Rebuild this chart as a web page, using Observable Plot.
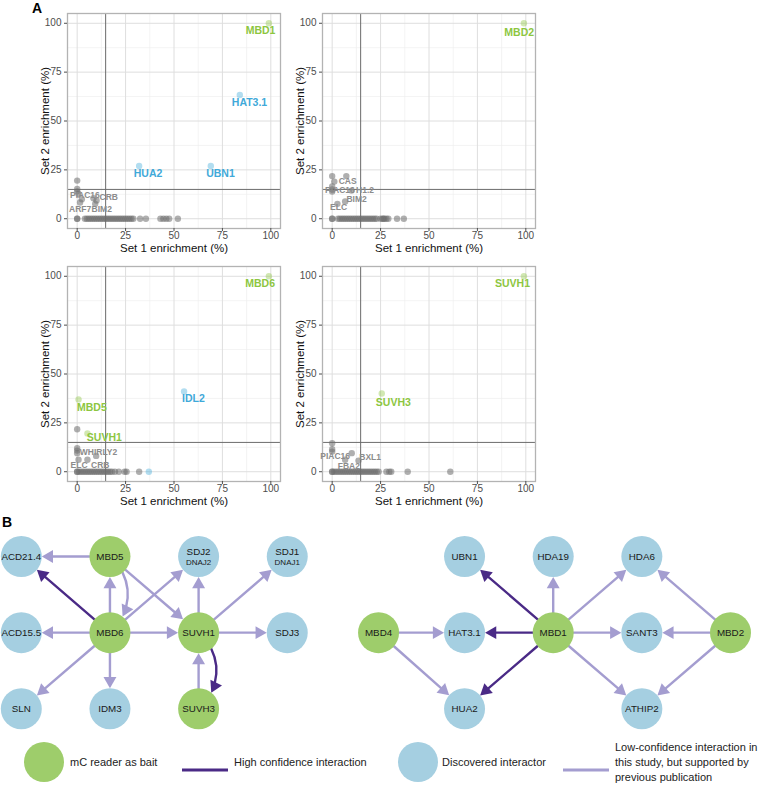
<!DOCTYPE html>
<html><head><meta charset="utf-8">
<script src="https://cdn.jsdelivr.net/npm/d3@7"></script>
<script src="https://cdn.jsdelivr.net/npm/@observablehq/plot@0.6"></script>
<style>
body{margin:0;background:#fff;font-family:"Liberation Sans",Arial,Helvetica,sans-serif;}
#root{position:relative;width:760px;height:790px;overflow:hidden;background:#fff;}
.abs{position:absolute;}
.plabel{position:absolute;font-weight:bold;font-size:14px;color:#000;}
.leg{position:absolute;font-size:11px;color:#222;line-height:15px;white-space:nowrap;}
</style></head><body><div id="root"></div>
<script>
// ---------- data: panel A ----------
const majorBreaks = [0, 25, 50, 75, 100];
const minorBreaks = [12.5, 37.5, 62.5, 87.5];
const cutX = 14.7, cutY = 15;
const xTitle = "Set 1 enrichment (%)";
const yTitle = "Set 2 enrichment (%)";

// MBD1 bait
const mbd1Hits = [
  {name: "MBD1", kind: "bait", x: 99, y: 100, lx: 94.7, ly: 96.3},
  {name: "HAT3.1", kind: "hit", x: 84, y: 63.3, lx: 89, ly: 59.4},
  {name: "HUA2", kind: "hit", x: 32, y: 27, lx: 36.6, ly: 23.2},
  {name: "UBN1", kind: "hit", x: 69, y: 27, lx: 74, ly: 23}
];
const mbd1Others = [[0,19.5],[0,15.2],[0,14],[0.7,12.7],[2.4,10],[1.5,8.3],[8.4,10.5],[10,9.3],[9.3,7.6]];
const mbd1Tags = [{name:"PIAC16",x:4,y:12.2},{name:"CRB",x:16.3,y:11.2},{name:"ARF7",x:1.5,y:4.9},{name:"BIM2",x:12.7,y:4.9}];
const mbd1Zero = [0,0,4,5,6,7,8,9,10,11,12,13,14,15,16,17,18,19,20,21,22,23,24,25,26,27,28,29,32.5,35.5,43,44.5,46,47.5,52];

// MBD2 bait
const mbd2Hits = [{name: "MBD2", kind: "bait", x: 99, y: 100, lx: 96.6, ly: 95}];
const mbd2Others = [[0,21.8],[7.3,21.8],[1.1,19],[0,16.5],[0,15],[0,13.9],[10,14.4],[2.7,7.6],[6.7,8.8]];
const mbd2Tags = [{name:"CAS",x:8,y:19.1},{name:"PIAC16",x:4,y:14.6},{name:"H1.2",x:17,y:14.6},{name:"BIM2",x:12.6,y:10},{name:"ELC",x:3.3,y:5.7}];
const mbd2Zero = [0,0,3,4,5,6,7,8,9,10,11,12,13,14,15,16,17,18,19,20,21,22,23,25,26,26.5,27,28,29,33.5,37];

// MBD6 bait
const mbd6Hits = [
  {name: "MBD6", kind: "bait", x: 99, y: 100, lx: 94.5, ly: 96},
  {name: "IDL2", kind: "hit", x: 55.2, y: 41.1, lx: 60, ly: 37.4},
  {name: "MBD5", kind: "bait", x: 0.7, y: 37, lx: 7.6, ly: 32.6},
  {name: "SUVH1", kind: "bait", x: 5.3, y: 19.6, lx: 14, ly: 17.4},
  {name: "", kind: "hit", x: 37, y: 0, lx: 37, ly: 0}
];
const mbd6Others = [[0,21.7],[0,12],[0,10.8],[0,9.5],[9.8,8.1],[0.7,6.1],[5.3,6.1]];
const mbd6Tags = [{name:"WHIRLY2",x:11,y:10.2},{name:"ELC",x:1,y:3.4},{name:"CRB",x:11.9,y:3.4}];
const mbd6Zero = [0,0,1,2,3,4,5,6,7,8,9,10,11,12,13,14,15,16,17,18,19.5,21.5,24.5,25.5,32];

// SUVH1 bait
const suvh1Hits = [
  {name: "SUVH1", kind: "bait", x: 99, y: 100, lx: 93.1, ly: 96},
  {name: "SUVH3", kind: "bait", x: 25.6, y: 40, lx: 31.6, ly: 35.4}
];
const suvh1Others = [[0,14.6],[0,11.5],[0,10.3],[10.1,9.5],[6.7,6.1],[13.6,5.7]];
const suvh1Tags = [{name:"PIAC16",x:1.5,y:7.9},{name:"BXL1",x:19.6,y:7.6},{name:"FBA2",x:8.6,y:2.6}];
const suvh1Zero = [0,0,1,2,3,4,5,6,7,8,9,10,11,12,13,14,15,16,17,18,19,20,21,22,23,24,28,29.5,30.5,39,61];

// ---------- data: panel B ----------
const netNodes = [
  {id:"ACD21.4", kind:"hit", col:0, row:0},
  {id:"MBD5", kind:"bait", col:1, row:0},
  {id:"SDJ2", sub:"DNAJ2", kind:"hit", col:2, row:0},
  {id:"SDJ1", sub:"DNAJ1", kind:"hit", col:3, row:0},
  {id:"ACD15.5", kind:"hit", col:0, row:1},
  {id:"MBD6", kind:"bait", col:1, row:1},
  {id:"SUVH1", kind:"bait", col:2, row:1},
  {id:"SDJ3", kind:"hit", col:3, row:1},
  {id:"SLN", kind:"hit", col:0, row:2},
  {id:"IDM3", kind:"hit", col:1, row:2},
  {id:"SUVH3", kind:"bait", col:2, row:2},
  {id:"UBN1", kind:"hit", col:5, row:0},
  {id:"HDA19", kind:"hit", col:6, row:0},
  {id:"HDA6", kind:"hit", col:7, row:0},
  {id:"MBD4", kind:"bait", col:4.03, row:1},
  {id:"HAT3.1", kind:"hit", col:5, row:1},
  {id:"MBD1", kind:"bait", col:6, row:1},
  {id:"SANT3", kind:"hit", col:7, row:1},
  {id:"MBD2", kind:"bait", col:8, row:1},
  {id:"HUA2", kind:"hit", col:5, row:2},
  {id:"ATHIP2", kind:"hit", col:7, row:2}
];
const netEdges = [
  {from:"MBD5", to:"ACD21.4", conf:"low"},
  {from:"MBD6", to:"ACD21.4", conf:"high"},
  {from:"MBD6", to:"MBD5", conf:"low"},
  {from:"MBD5", to:"MBD6", conf:"low", bend:50},
  {from:"MBD5", to:"SUVH1", conf:"low"},
  {from:"MBD6", to:"SDJ2", conf:"low"},
  {from:"SUVH1", to:"SDJ2", conf:"low"},
  {from:"SUVH1", to:"SDJ1", conf:"low"},
  {from:"MBD6", to:"ACD15.5", conf:"low"},
  {from:"MBD6", to:"SUVH1", conf:"low"},
  {from:"SUVH1", to:"SDJ3", conf:"low"},
  {from:"MBD6", to:"SLN", conf:"low"},
  {from:"MBD6", to:"IDM3", conf:"low"},
  {from:"SUVH3", to:"SUVH1", conf:"low"},
  {from:"SUVH1", to:"SUVH3", conf:"high", bend:50},
  {from:"MBD1", to:"UBN1", conf:"high"},
  {from:"MBD1", to:"HDA19", conf:"low"},
  {from:"MBD1", to:"HDA6", conf:"low"},
  {from:"MBD2", to:"HDA6", conf:"low"},
  {from:"MBD4", to:"HAT3.1", conf:"low"},
  {from:"MBD1", to:"HAT3.1", conf:"high"},
  {from:"MBD1", to:"SANT3", conf:"low"},
  {from:"MBD2", to:"SANT3", conf:"low"},
  {from:"MBD4", to:"HUA2", conf:"low"},
  {from:"MBD1", to:"HUA2", conf:"high"},
  {from:"MBD1", to:"ATHIP2", conf:"low"},
  {from:"MBD2", to:"ATHIP2", conf:"low"}
];
const legendLabels = ["mC reader as bait", "High confidence interaction", "Discovered interactor",
  "Low-confidence interaction in\nthis study, but supported by\nprevious publication"];

// ---------- styles ----------
const FONT = "'Liberation Sans', Arial, Helvetica, sans-serif";
const GREEN = "#8dc63f", BLUE = "#3fa9d9";
const NODE_GREEN = "#9ecd6b", NODE_BLUE = "#a5cfe1";
const DARK = "#4a2a86", LIGHT = "#a49dd0";

const root = document.getElementById("root");
function place(el, left, top) {
  const d = document.createElement("div");
  d.className = "abs"; d.style.left = left + "px"; d.style.top = top + "px";
  d.appendChild(el); root.appendChild(d);
}

function scatter(hits, others, tags, zero) {
  const pts = [...zero.map(x => ({x, y: 0})), ...others.map(([x, y]) => ({x, y}))];
  return Plot.plot({
    width: 290, height: 255, marginLeft: 67, marginRight: 10, marginTop: 13, marginBottom: 27,
    x: {domain: [-5, 105]}, y: {domain: [-5, 105]},
    color: {domain: ["bait", "hit"], range: [GREEN, BLUE]},
    style: {fontFamily: FONT, fontSize: "10px", color: "#4d4d4d", background: "transparent", overflow: "visible"},
    marks: [
      Plot.ruleX(minorBreaks, {stroke: "#eeeeee", strokeWidth: 0.7}),
      Plot.ruleY(minorBreaks, {stroke: "#eeeeee", strokeWidth: 0.7}),
      Plot.ruleX(majorBreaks, {stroke: "#dedede", strokeWidth: 1}),
      Plot.ruleY(majorBreaks, {stroke: "#dedede", strokeWidth: 1}),
      Plot.ruleX([cutX], {stroke: "#6b6b6b", strokeWidth: 1}),
      Plot.ruleY([cutY], {stroke: "#6b6b6b", strokeWidth: 1}),
      Plot.frame({stroke: "#b3b3b3", strokeWidth: 1.3}),
      Plot.axisX({ticks: majorBreaks, tickSize: 3, tickPadding: 0.5, label: null}),
      Plot.axisY({ticks: majorBreaks, tickSize: 3, tickPadding: 3, label: null}),
      Plot.text([xTitle], {text: d => d, frameAnchor: "bottom", lineAnchor: "middle", textAnchor: "middle", dy: 19.5, fontSize: 11.5, fill: "#111"}),
      Plot.text([yTitle], {text: d => d, frameAnchor: "left", lineAnchor: "middle", textAnchor: "middle", rotate: -90, dx: -22, fontSize: 11.5, fill: "#111"}),
      Plot.dot(pts, {x: "x", y: "y", r: 3.2, fill: "#6e6e6e", fillOpacity: 0.55}),
      Plot.dot(hits, {x: "x", y: "y", r: 3.2, fill: "kind", fillOpacity: 0.4}),
      Plot.text(tags, {x: "x", y: "y", text: "name", fontSize: 8.5, fontWeight: "bold", fill: "#8c8c8c"}),
      Plot.text(hits.filter(d => d.name), {x: "lx", y: "ly", text: "name", fontSize: 10.5, fontWeight: "bold", fill: "kind"})
    ]
  });
}

place(scatter(mbd1Hits, mbd1Others, mbd1Tags, mbd1Zero), 0, 0);
place(scatter(mbd2Hits, mbd2Others, mbd2Tags, mbd2Zero), 255, 0);
place(scatter(mbd6Hits, mbd6Others, mbd6Tags, mbd6Zero), 0, 253);
place(scatter(suvh1Hits, suvh1Others, suvh1Tags, suvh1Zero), 255, 253);

// ---------- network ----------
const XD = [0, 8], XR = [20.8, 730], YD = [0, 2], YR = [36, 188.3];
const xs = d3.scaleLinear(XD, XR), ys = d3.scaleLinear(YD, YR);
const byId = Object.fromEntries(netNodes.map(d => [d.id, d]));
const R = 20.5, TR = 4.8;
const TIP = 1.5551 * TR, TLEN = 2.3327 * TR;

function pointPointCenter([ax, ay], [bx, by], r, sign) {
  const dx = bx - ax, dy = by - ay, d = Math.hypot(dx, dy);
  const k = (sign * Math.sqrt(r * r - (d * d) / 4)) / d;
  return [(ax + bx) / 2 - dy * k, (ay + by) / 2 + dx * k];
}
function circleCircleIntersect([ax, ay, ar], [bx, by, br], sign) {
  const dx = bx - ax, dy = by - ay, d = Math.hypot(dx, dy);
  const x = (dx * dx + dy * dy - br * br + ar * ar) / (2 * d);
  const y = sign * Math.sqrt(ar * ar - x * x);
  return [ax + (dx * x + dy * y) / d, ay + (dy * x - dx * y) / d];
}
const heads = netEdges.map(e => {
  const s = byId[e.from], t = byId[e.to];
  const p1 = [xs(s.col), ys(s.row)], p2 = [xs(t.col), ys(t.row)];
  let tip, dir;
  if (!e.bend) {
    const dx = p2[0] - p1[0], dy = p2[1] - p1[1], L = Math.hypot(dx, dy);
    dir = [dx / L, dy / L];
    tip = [p2[0] - dir[0] * R, p2[1] - dir[1] * R];
  } else {
    const b = e.bend * Math.PI / 180;
    const L = Math.hypot(p2[0] - p1[0], p2[1] - p1[1]);
    const r = Math.hypot(L / Math.tan(b), L) / 2;
    const sign = Math.sign(b);
    const c = pointPointCenter(p1, p2, r, sign);
    tip = circleCircleIntersect([c[0], c[1], r], [p2[0], p2[1], R], sign);
    dir = [-(tip[1] - c[1]) / r * sign, (tip[0] - c[0]) / r * sign];
  }
  const cx = tip[0] - dir[0] * TIP, cy = tip[1] - dir[1] * TIP;
  return {x: xs.invert(cx), y: ys.invert(cy), rotate: Math.atan2(dir[1], dir[0]) * 180 / Math.PI + 90, conf: e.conf};
});
const edgeXY = {
  x1: d => byId[d.from].col, y1: d => byId[d.from].row,
  x2: d => byId[d.to].col, y2: d => byId[d.to].row
};
const straight = netEdges.filter(e => !e.bend), bent = netEdges.filter(e => e.bend);

const net = Plot.plot({
  width: 760, height: 215, margin: 0,
  x: {domain: XD, range: XR, axis: null},
  y: {domain: YD, range: YR, axis: null},
  color: {domain: ["bait", "hit", "high", "low"], range: [NODE_GREEN, NODE_BLUE, DARK, LIGHT]},
  style: {fontFamily: FONT, fontSize: "9.8px", background: "transparent", overflow: "visible"},
  marks: [
    Plot.arrow(straight, {...edgeXY, stroke: "conf", strokeWidth: 2.4, headLength: 0, insetStart: R, insetEnd: R + TLEN - 1.5}),
    Plot.arrow(bent, {...edgeXY, stroke: "conf", strokeWidth: 2.4, headLength: 0, bend: bent[0].bend, insetStart: R, insetEnd: R + TLEN - 1.5}),
    Plot.dot(heads, {x: "x", y: "y", r: TR, symbol: "triangle", rotate: "rotate", fill: "conf", stroke: "none"}),
    Plot.dot(netNodes, {x: "col", y: "row", r: R, fill: "kind", stroke: "none"}),
    Plot.text(netNodes.filter(d => !d.sub), {x: "col", y: "row", text: "id", fill: "#1a1a1a"}),
    Plot.text(netNodes.filter(d => d.sub), {x: "col", y: "row", text: "id", dy: -5, fill: "#1a1a1a"}),
    Plot.text(netNodes.filter(d => d.sub), {x: "col", y: "row", text: "sub", dy: 6, fontSize: 8, fill: "#1a1a1a"})
  ]
});
place(net, 0, 520);

// ---------- panel letters ----------
function label(txt, left, top) {
  const d = document.createElement("div");
  d.className = "plabel"; d.textContent = txt;
  d.style.left = left + "px"; d.style.top = top + "px";
  root.appendChild(d);
}
label("A", 32, 0);
label("B", 2, 514);

// ---------- legend ----------
function svgEl(w, h, inner) {
  const s = document.createElementNS("http://www.w3.org/2000/svg", "svg");
  s.setAttribute("width", w); s.setAttribute("height", h);
  s.innerHTML = inner;
  return s;
}
const LY = 762;
place(svgEl(42, 42, `<circle cx="21" cy="21" r="20" fill="${NODE_GREEN}"/>`), 23, LY - 21);
place(svgEl(48, 6, `<line x1="0" y1="3" x2="46" y2="3" stroke="${DARK}" stroke-width="3"/>`), 182, LY - 3);
place(svgEl(42, 42, `<circle cx="21" cy="21" r="20" fill="${NODE_BLUE}"/>`), 397, LY - 21);
place(svgEl(48, 6, `<line x1="0" y1="3" x2="46" y2="3" stroke="${LIGHT}" stroke-width="3"/>`), 563, LY - 3);
function legText(txt, left) {
  const d = document.createElement("div");
  d.className = "leg";
  const lines = txt.split("\n");
  d.innerHTML = lines.join("<br>");
  d.style.left = left + "px";
  d.style.top = (LY - lines.length * 15 / 2) + "px";
  root.appendChild(d);
}
legText(legendLabels[0], 70);
legText(legendLabels[1], 234);
legText(legendLabels[2], 442);
legText(legendLabels[3], 615);
</script></body></html>
